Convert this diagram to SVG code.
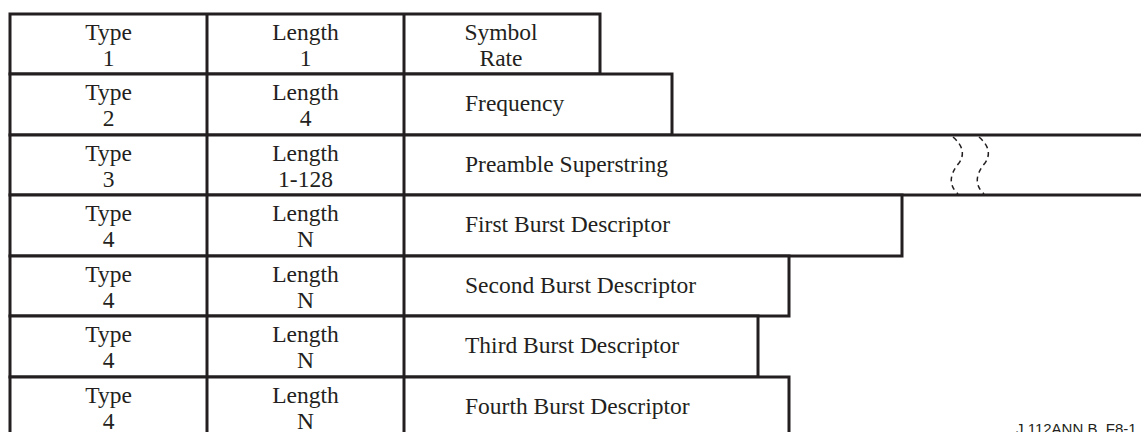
<svg xmlns="http://www.w3.org/2000/svg" width="1141" height="432" viewBox="0 0 1141 432">
<style>
.box{fill:#fff;stroke:#231f20;stroke-width:3;stroke-linejoin:miter}
.div{stroke:#231f20;stroke-width:3}
.t{font-family:"Liberation Serif","Times New Roman",serif;font-size:23.5px;fill:#231f20}
.c{text-anchor:middle}
.brk{fill:none;stroke:#231f20;stroke-width:1.5;stroke-dasharray:5 4}
.lbl{font-family:"Liberation Sans",Arial,sans-serif;font-size:15px;fill:#231f20}
</style>
<rect width="1141" height="432" fill="#fff"/>
<g id="row1">
<rect class="box" x="10" y="14" width="590" height="60"/>
<line class="div" x1="207" y1="14" x2="207" y2="74"/><line class="div" x1="404" y1="14" x2="404" y2="74"/>
<text class="t c" x="108.5" y="39.5">Type</text><text class="t c" x="108.5" y="65.5">1</text>
<text class="t c" x="305.5" y="39.5">Length</text><text class="t c" x="305.5" y="65.5">1</text>
<text class="t c" x="501" y="39.5">Symbol</text><text class="t c" x="501" y="65.5">Rate</text>
</g>
<g id="row2">
<rect class="box" x="10" y="74" width="662" height="61"/>
<line class="div" x1="207" y1="74" x2="207" y2="135"/><line class="div" x1="404" y1="74" x2="404" y2="135"/>
<text class="t c" x="108.5" y="99.5">Type</text><text class="t c" x="108.5" y="125.5">2</text>
<text class="t c" x="305.5" y="99.5">Length</text><text class="t c" x="305.5" y="125.5">4</text>
<text class="t" x="465" y="110.5">Frequency</text>
</g>
<g id="row3">
<rect x="10" y="135" width="1140" height="60" fill="#fff"/>
<path class="box" fill="none" d="M1150,135 H10 V195 H1150"/>
<line class="div" x1="207" y1="135" x2="207" y2="195"/><line class="div" x1="404" y1="135" x2="404" y2="195"/>
<text class="t c" x="108.5" y="160.5">Type</text><text class="t c" x="108.5" y="186.5">3</text>
<text class="t c" x="305.5" y="160.5">Length</text><text class="t c" x="305.5" y="186.5">1-128</text>
<text class="t" x="465" y="172">Preamble Superstring</text>
<path class="brk" d="M953,137 Q968,150 959,163 Q944,181 958,194"/>
<path class="brk" d="M979,137 Q994,150 985,163 Q970,181 984,194"/>
</g>
<g id="row4">
<rect class="box" x="10" y="195" width="892" height="61"/>
<line class="div" x1="207" y1="195" x2="207" y2="256"/><line class="div" x1="404" y1="195" x2="404" y2="256"/>
<text class="t c" x="108.5" y="220.5">Type</text><text class="t c" x="108.5" y="246.5">4</text>
<text class="t c" x="305.5" y="220.5">Length</text><text class="t c" x="305.5" y="246.5">N</text>
<text class="t" x="465" y="232">First Burst Descriptor</text>
</g>
<g id="row5">
<rect class="box" x="10" y="256" width="779" height="60"/>
<line class="div" x1="207" y1="256" x2="207" y2="316"/><line class="div" x1="404" y1="256" x2="404" y2="316"/>
<text class="t c" x="108.5" y="281.5">Type</text><text class="t c" x="108.5" y="307.5">4</text>
<text class="t c" x="305.5" y="281.5">Length</text><text class="t c" x="305.5" y="307.5">N</text>
<text class="t" x="465" y="293">Second Burst Descriptor</text>
</g>
<g id="row6">
<rect class="box" x="10" y="316" width="748" height="61"/>
<line class="div" x1="207" y1="316" x2="207" y2="377"/><line class="div" x1="404" y1="316" x2="404" y2="377"/>
<text class="t c" x="108.5" y="341.5">Type</text><text class="t c" x="108.5" y="367.5">4</text>
<text class="t c" x="305.5" y="341.5">Length</text><text class="t c" x="305.5" y="367.5">N</text>
<text class="t" x="465" y="353">Third Burst Descriptor</text>
</g>
<g id="row7">
<path class="box" d="M10,440 V377 H789 V440"/>
<line class="div" x1="207" y1="377" x2="207" y2="440"/><line class="div" x1="404" y1="377" x2="404" y2="440"/>
<text class="t c" x="108.5" y="402.5">Type</text><text class="t c" x="108.5" y="428.5">4</text>
<text class="t c" x="305.5" y="402.5">Length</text><text class="t c" x="305.5" y="428.5">N</text>
<text class="t" x="465" y="414">Fourth Burst Descriptor</text>
</g>
<g id="connectors"></g>
<text class="lbl" x="1016" y="434">J.112ANN.B_F8-1</text>
</svg>
